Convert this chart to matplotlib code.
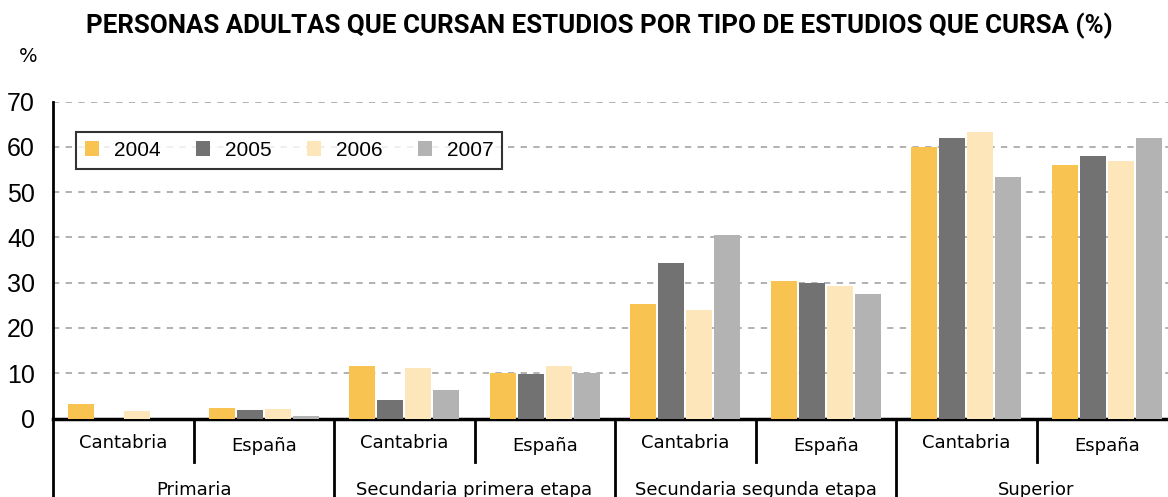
import matplotlib.pyplot as plt
import numpy as np
from matplotlib.patches import Patch
from matplotlib.lines import Line2D
import matplotlib.transforms as mtransforms

plt.rcParams.update({
    "font.family": ["DejaVu Sans"],
})

# --- Data ---
groups = ["Primaria", "Secundaria primera etapa", "Secundaria segunda etapa", "Superior"]
regions = ["Cantabria", "España"]
years = ["2004", "2005", "2006", "2007"]

# one value per (group, region) in order: Prim-Cant, Prim-Esp, SecI-Cant, ...
vals_2004 = [3.3, 2.4, 11.5, 10.1, 25.4, 30.3, 60.1, 56.1]
vals_2005 = [0.0, 1.9, 4.1, 9.9, 34.3, 29.9, 61.9, 57.9]
vals_2006 = [1.7, 2.1, 11.2, 11.5, 23.9, 29.2, 63.4, 57.0]
vals_2007 = [0.0, 0.6, 6.4, 10.1, 40.6, 27.4, 53.4, 61.9]

colors = ["#F9C351", "#727272", "#FCE6BA", "#B3B3B4"]

W, H = 1168, 497
fig = plt.figure(figsize=(W / 100, H / 100), dpi=100)
# axes extends a bit past the right edge like the original crop
ax = fig.add_axes([53 / W, 78.5 / H, 1124 / W, 316.8 / H])

series = [vals_2004, vals_2005, vals_2006, vals_2007]
x = np.arange(len(vals_2004))
offsets = [-0.3, -0.1, 0.1, 0.3]
for i, (vals, yr) in enumerate(zip(series, years)):
    ax.bar(x + offsets[i], vals, width=0.185, color=colors[i], label=yr, zorder=3)

ax.set_xlim(-0.5, 7.5)
ax.set_ylim(0, 70)
ax.set_yticks(range(0, 71, 10))
ax.set_xticks([])
ax.tick_params(axis="y", length=0, pad=13)
for lab in ax.get_yticklabels():
    lab.set_fontfamily("Liberation Sans")
    lab.set_fontsize(18)
ax.grid(True, axis="y", linestyle=(0, (3.5, 3.5)), linewidth=1.3, color="#ababab", zorder=0)

for s in ["top", "right"]:
    ax.spines[s].set_visible(False)
ax.spines["left"].set_linewidth(2)
ax.spines["bottom"].set_linewidth(2.5)

# --- category axis (two levels) ---
tr = mtransforms.blended_transform_factory(ax.transData, fig.transFigure)
y_axis = 78.5 / H
for k in range(len(groups)):
    mid = 2 * k + 0.5
    ax.add_line(Line2D([mid, mid], [y_axis, (H - 462) / H], transform=tr,
                       color="black", lw=2, clip_on=False))
for k in range(len(groups) + 1):
    xs = 2 * k - 0.5
    ax.add_line(Line2D([xs, xs], [y_axis, 0], transform=tr,
                       color="black", lw=2, clip_on=False))

for j in range(len(x)):
    base = 448 if j % 2 == 0 else 451
    ax.text(j, (H - base) / H, regions[j % 2], transform=tr, ha="center",
            va="baseline", fontsize=13)
for k, g in enumerate(groups):
    ax.text(2 * k + 0.5, (H - 495) / H, g, transform=tr, ha="center",
            va="baseline", fontsize=13)

# --- legend ---
handles = [Patch(facecolor=c, edgecolor="none") for c in colors]
leg = fig.legend(handles, years, loc="upper left",
                 bbox_to_anchor=(76 / W, (H - 132) / H), borderaxespad=0,
                 ncol=4, prop={"family": "Liberation Sans", "size": 15},
                 frameon=True, fancybox=False,
                 handlelength=0.67, handleheight=0.67, handletextpad=0.72,
                 columnspacing=1.7, borderpad=0.42)
leg.get_frame().set_edgecolor("black")
leg.get_frame().set_linewidth(1.5)

fig.text(599 / W, (H - 33) / H, "PERSONAS ADULTAS QUE CURSAN ESTUDIOS POR TIPO DE ESTUDIOS QUE CURSA (%)",
         ha="center", va="baseline", fontsize=18.6, fontweight="bold", family="Roboto")
fig.text(28 / W, (H - 57) / H, "%", ha="center", va="center", fontsize=14)

fig.savefig("out.png", dpi=100)
